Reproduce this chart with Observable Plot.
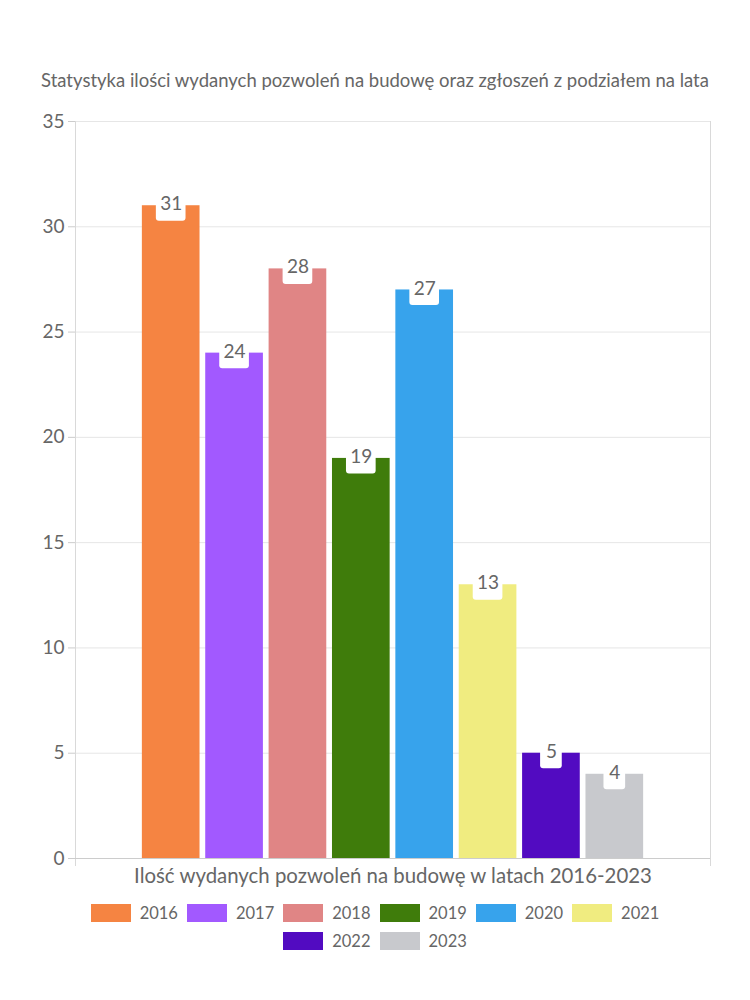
<!DOCTYPE html>
<html><head><meta charset="utf-8">
<script src="https://cdn.jsdelivr.net/npm/d3@7"></script>
<script src="https://cdn.jsdelivr.net/npm/@observablehq/plot@0.6"></script>
<style>
body{margin:0;background:#fff;font-family:Lato,sans-serif;}
#wrap{position:relative;width:750px;height:1000px;background:#fff;}
#title{position:absolute;z-index:2;top:68px;left:0;width:750px;text-align:center;font-size:18.5px;line-height:24px;color:#666;white-space:nowrap;}
#chart{position:absolute;z-index:1;top:0;left:0;}
#legend{position:absolute;z-index:2;top:904px;left:75px;width:600px;display:flex;flex-wrap:wrap;justify-content:center;column-gap:9px;row-gap:10px;}
.item{display:flex;align-items:center;height:18px;font-size:16.5px;color:#666;}
.sw{width:40px;height:18px;margin-right:9px;}
</style></head><body>
<div id="wrap"><div id="title"></div><div id="chart"></div><div id="legend"></div></div>
<script>
const title = "Statystyka ilości wydanych pozwoleń na budowę oraz zgłoszeń z podziałem na lata";
const category = ["Ilość wydanych pozwoleń na budowę w latach 2016-2023"];
const years = ["2016", "2017", "2018", "2019", "2020", "2021", "2022", "2023"];
const values = [31, 24, 28, 19, 27, 13, 5, 4];
const colors = ["#F58442", "#A259FF", "#E08585", "#3F7C0B", "#37A3EC", "#F0EC80", "#520BC1", "#C8C9CD"];
const yTicks = [0, 5, 10, 15, 20, 25, 30, 35];

const data = years.map((year, i) => ({year, value: values[i], label: String(values[i])}));

document.getElementById("title").textContent = title;

const frameLines = (index, scales, values, dims) => {
  const g = d3.create("svg:g");
  const {marginLeft, marginRight, marginTop, marginBottom, width, height} = dims;
  for (const x of [marginLeft + 0.5, width - marginRight + 0.5]) {
    g.append("line").attr("x1", x).attr("x2", x)
      .attr("y1", marginTop).attr("y2", height - marginBottom + 8)
      .attr("stroke", "#d9d9d9");
  }
  return g.node();
};

const chart = Plot.plot({
  width: 750,
  height: 900,
  marginTop: 121,
  marginBottom: 42,
  marginLeft: 75,
  marginRight: 40,
  style: {fontFamily: "Lato, sans-serif", fontSize: "19px", color: "#666", background: "white"},
  x: {domain: years, paddingInner: 0.09, paddingOuter: 1.055, round: false, axis: null},
  y: {domain: [0, 35]},
  color: {domain: years, range: colors},
  marks: [
    Plot.gridY(yTicks, {stroke: "#e6e6e6", strokeOpacity: 1}),
    Plot.axisY(yTicks, {tickSize: 7, tickPadding: 4, stroke: "#ccc", fill: "#666", fontSize: 19, label: null}),
    frameLines,
    Plot.barY(data, {x: "year", y: "value", fill: "year"}),
    Plot.ruleY([0], {stroke: "#ccc"}),
    Plot.barY(data.filter(d => d.label.length > 1), {x: "year", y1: d => d.value - 0.74, y2: d => d.value + 0.3, fill: "white", rx: 3, insetLeft: 14, insetRight: 14}),
    Plot.barY(data.filter(d => d.label.length === 1), {x: "year", y1: d => d.value - 0.74, y2: d => d.value + 0.3, fill: "white", rx: 3, insetLeft: 18, insetRight: 18}),
    Plot.text(data, {x: "year", y: "value", text: "label", dy: -1.5, fill: "#666", fontSize: 19}),
    Plot.text(category, {frameAnchor: "bottom", dy: 24, fontSize: 20.4, fill: "#666"})
  ]
});
document.getElementById("chart").appendChild(chart);

const legend = document.getElementById("legend");
years.forEach((y, i) => {
  const item = document.createElement("div");
  item.className = "item";
  const sw = document.createElement("div");
  sw.className = "sw";
  sw.style.background = colors[i];
  const lab = document.createElement("span");
  lab.textContent = y;
  item.appendChild(sw);
  item.appendChild(lab);
  legend.appendChild(item);
});
</script>
</body></html>
